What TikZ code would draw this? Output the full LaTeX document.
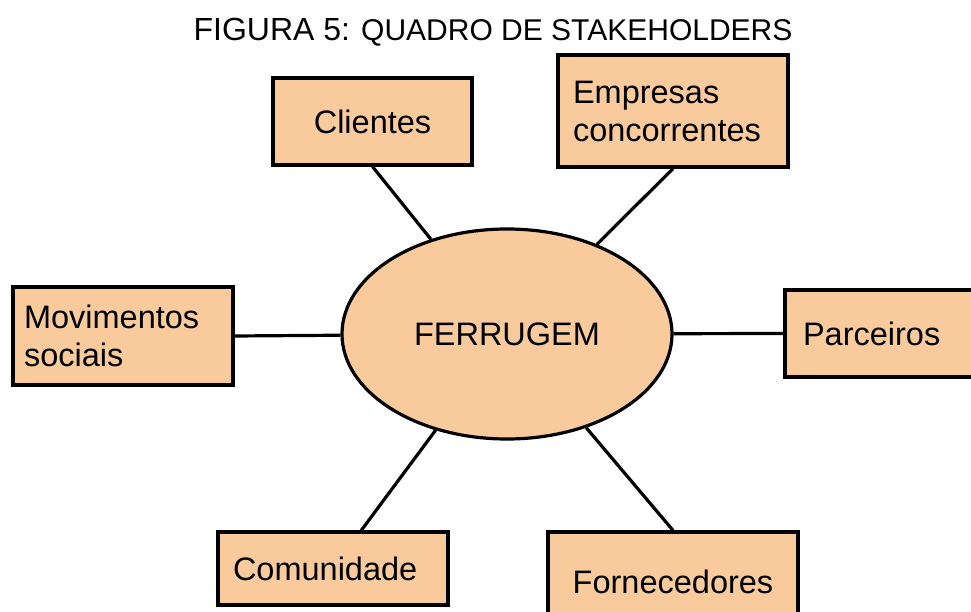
\documentclass[tikz,border=0pt]{standalone}
\usepackage{fontspec}
\setmainfont{Liberation Sans}
\usetikzlibrary{shapes.geometric}
\definecolor{peach}{HTML}{F9CB9C}

\begin{document}
\begin{tikzpicture}[x=1pt, y=-1pt,
		stake/.style={rectangle, draw, fill=peach, line width=3.2pt, inner sep=0pt, font=\fontsize{32.5}{38}\selectfont},
		lbox/.style={stake, align=left, text width=#1},
		link/.style={line width=3.2pt}]
			\clip (0, 0) rectangle (971, 612);
			\fill[white] (0, 0) rectangle (971, 612);

			\node (title) at (493, 32) {\fontsize{32}{36}\selectfont FIGURA 5:\fontsize{30}{36}\selectfont{} QUADRO DE STAKEHOLDERS};

			\node[ellipse, draw, fill=peach, line width=3.2pt, minimum width=330, minimum height=210, inner sep=0pt, font=\fontsize{32.5}{38}\selectfont] (F) at (507, 334) {FERRUGEM};

			\node[stake, minimum width=199, minimum height=87] (cli) at (372.5, 121.5) {Clientes};
			\node[lbox=200, minimum width=230, minimum height=112] (emp) at (673, 111) {Empresas\\concorrentes};
			\node[lbox=198, minimum width=220, minimum height=98] (mov) at (123, 336) {Movimentos\\sociais};
			\node[lbox=164, minimum width=200, minimum height=87] (par) at (885, 333.5) {Parceiros};
			\node[lbox=200, minimum width=230, minimum height=73] (com) at (333, 568.5) {Comunidade};
			\node[stake, minimum width=250, minimum height=100] (forn) at (673, 582) {Fornecedores};

			\draw[link] (cli.south) -- (F);
			\draw[link] (emp.south) -- (F);
			\draw[link] (mov.east) -- (F);
			\draw[link] (par.west) -- (F);
			\draw[link] (com) -- (F);
			\draw[link] (forn.north) -- (F);
		\end{tikzpicture}
\end{document}
